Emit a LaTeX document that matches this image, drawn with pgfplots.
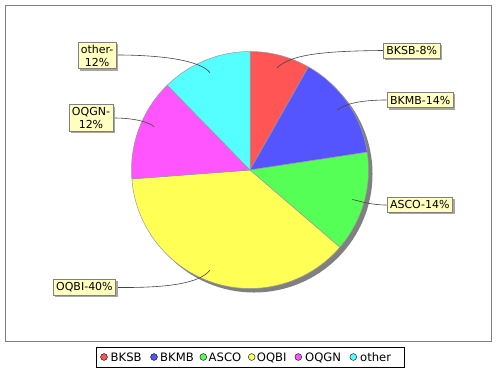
\documentclass[border=0pt]{standalone}
\usepackage{pgfplots}
\pgfplotsset{compat=1.18}
\usepackage{pgfplotstable}
\usepackage{fontspec}
\setmainfont{DejaVu Sans}
\usetikzlibrary{shadows}
\definecolor{slice0}{HTML}{FF5555}
\definecolor{slice1}{HTML}{5555FF}
\definecolor{slice2}{HTML}{55FF55}
\definecolor{slice3}{HTML}{FFFF55}
\definecolor{slice4}{HTML}{FF55FF}
\definecolor{slice5}{HTML}{55FFFF}
\definecolor{lblfill}{HTML}{FFFFC0}
\definecolor{shadowgray}{HTML}{808080}
\definecolor{linkgray}{HTML}{444444}
\pgfplotstableread{
name value
BKSB 8.2
BKMB 14.4
ASCO 13.7
OQBI 37.5
OQGN 13.9
other 12.3
}\piedata
\def\cum{90}
\foreach \i in {0,...,5}{%
  \pgfplotstablegetelem{\i}{value}\of\piedata
  \pgfmathsetmacro\e{\cum-3.6*\pgfplotsretval}%
  \expandafter\xdef\csname sA\i\endcsname{\cum}%
  \expandafter\xdef\csname sB\i\endcsname{\e}%
  \xdef\cum{\e}%
}
\newcommand\lblfont{\fontsize{11bp}{13bp}\selectfont}
\newcommand\legfont{\fontsize{11.6bp}{13bp}\selectfont}
\tikzset{lbl/.style={draw=shadowgray, fill=lblfill, line width=0.6bp, font=\lblfont, inner xsep=3bp, inner ysep=3.5bp, align=center, general shadow={shadow xshift=2bp, shadow yshift=-2bp, fill=shadowgray!70}}}
\begin{document}
\begin{tikzpicture}
\begin{axis}[scale only axis, width=500bp, height=370bp,
  xmin=0, xmax=500, ymin=0, ymax=370, hide axis, clip=false]
\path (axis cs:0,0) rectangle (axis cs:500,370);
% plot border
\draw[shadowgray, line width=1bp] (axis cs:5.5,29) rectangle (axis cs:491,364.5);
% pie shadow
\fill[shadowgray] (axis cs:254,196) circle[radius=118.5bp];
% slices
\pgfplotsinvokeforeach{0,...,5}{
  \filldraw[fill=slice#1, draw=shadowgray!80, line width=0.5bp]
    (axis cs:250,200) -- ++(\csname sA#1\endcsname:118.5bp)
    arc[start angle=\csname sA#1\endcsname, end angle=\csname sB#1\endcsname, radius=118.5bp] -- cycle;
}
% leader lines
\draw[linkgray, line width=0.6bp] (axis cs:383,319.5) .. controls (axis cs:320,319) and (axis cs:290,315) .. (axis cs:277,302);
\draw[linkgray, line width=0.6bp] (axis cs:386.7,270) .. controls (axis cs:360,270) and (axis cs:345,266) .. (axis cs:337.3,260);
\draw[linkgray, line width=0.6bp] (axis cs:386.7,165) .. controls (axis cs:370,165) and (axis cs:360,169) .. (axis cs:352.3,170.5);
\draw[linkgray, line width=0.6bp] (axis cs:116,82.5) .. controls (axis cs:170,82) and (axis cs:200,87) .. (axis cs:210,100);
\draw[linkgray, line width=0.6bp] (axis cs:113.3,252) .. controls (axis cs:135,252) and (axis cs:148,248) .. (axis cs:154.3,243.3);
\draw[linkgray, line width=0.6bp] (axis cs:116.7,315) .. controls (axis cs:160,315) and (axis cs:200,310) .. (axis cs:210,297.3);
% labels
\node[lbl, anchor=west] at (axis cs:383,319.5) {BKSB-8\%};
\node[lbl, anchor=west] at (axis cs:386.7,270) {BKMB-14\%};
\node[lbl, anchor=west] at (axis cs:386.7,165.3) {ASCO-14\%};
\node[lbl, anchor=east] at (axis cs:116,82.8) {OQBI-40\%};
\node[lbl, anchor=east, inner ysep=2.5bp] at (axis cs:113.3,252.2) {OQGN-\\12\%};
\node[lbl, anchor=east, inner ysep=2.5bp] at (axis cs:116.7,314.5) {other-\\12\%};
% legend
\draw[black, line width=1bp] (axis cs:96.5,3) rectangle (axis cs:404,23);
\addplot[only marks, mark=*, mark size=3.4bp, mark options={fill=slice0, draw=none}] coordinates {(104,13)};
\addplot[only marks, mark=*, mark size=3.4bp, mark options={fill=slice1, draw=none}] coordinates {(154,13)};
\addplot[only marks, mark=*, mark size=3.4bp, mark options={fill=slice2, draw=none}] coordinates {(203.3,13)};
\addplot[only marks, mark=*, mark size=3.4bp, mark options={fill=slice3, draw=none}] coordinates {(251.7,13)};
\addplot[only marks, mark=*, mark size=3.4bp, mark options={fill=slice4, draw=none}] coordinates {(298.3,13)};
\addplot[only marks, mark=*, mark size=3.4bp, mark options={fill=slice5, draw=none}] coordinates {(353.3,13)};
\node[anchor=base west, font=\legfont, inner sep=0] at (axis cs:110.5,9) {BKSB};
\node[anchor=base west, font=\legfont, inner sep=0] at (axis cs:160,9) {BKMB};
\node[anchor=base west, font=\legfont, inner sep=0] at (axis cs:208.5,9) {ASCO};
\node[anchor=base west, font=\legfont, inner sep=0] at (axis cs:256.7,9) {OQBI};
\node[anchor=base west, font=\legfont, inner sep=0] at (axis cs:305,9) {OQGN};
\node[anchor=base west, font=\legfont, inner sep=0] at (axis cs:360,9) {other};
\end{axis}
\end{tikzpicture}
\end{document}
